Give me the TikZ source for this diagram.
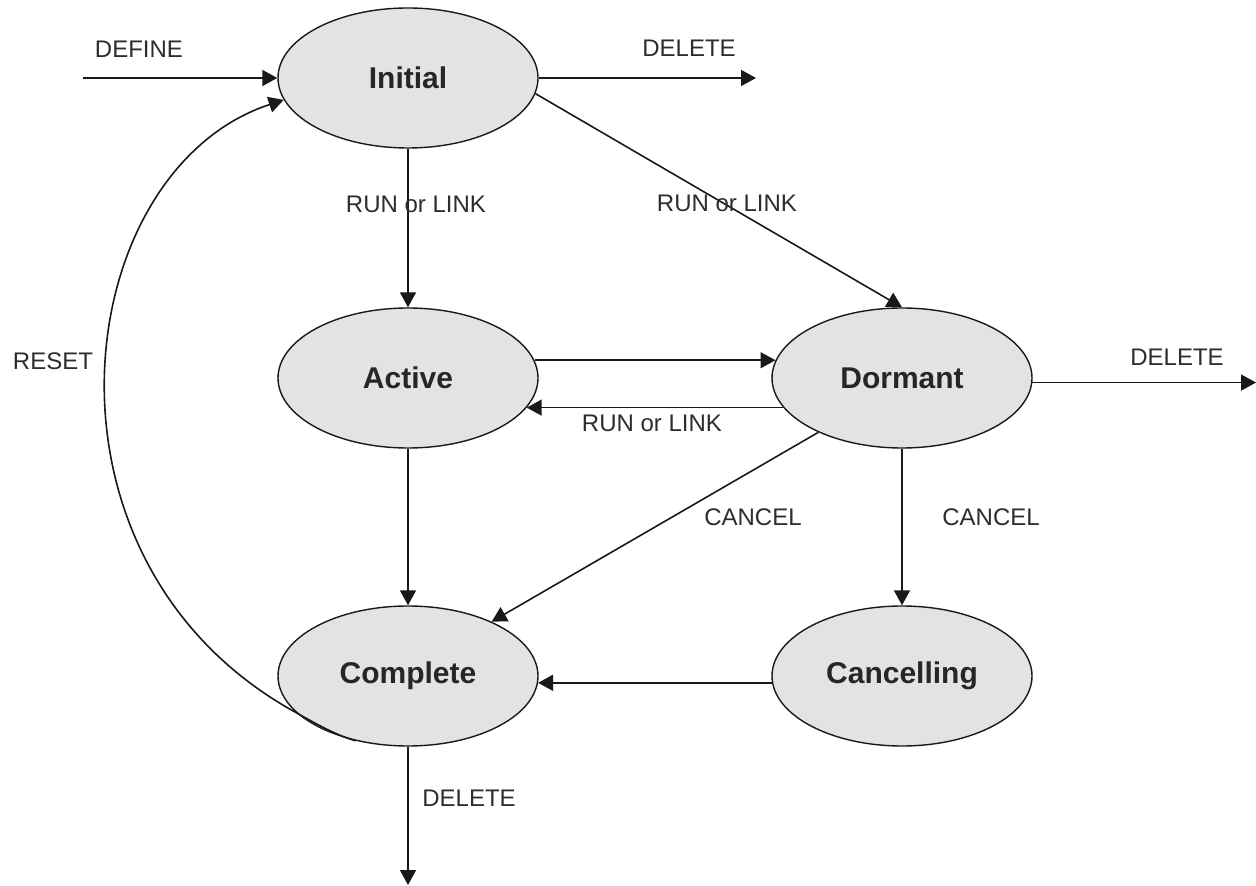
\documentclass[tikz,border=0pt]{standalone}
\usepackage{fontspec}
\setmainfont{Liberation Sans}
\usetikzlibrary{arrows.meta,shapes.geometric,backgrounds}
\definecolor{statefill}{RGB}{227,227,227}
\definecolor{inkline}{RGB}{25,25,25}
\definecolor{labelgray}{RGB}{45,45,45}
\begin{document}
\begin{tikzpicture}[x=0.5pt,y=-0.5pt,
  state/.style={ellipse, draw=inkline, line width=0.7pt, fill=statefill,
    minimum width=130pt, minimum height=70pt, inner sep=0pt,
    font=\bfseries\fontsize{15}{18}\selectfont, text=black!85},
  trans/.style={draw=inkline, line width=0.8pt,
    -{Triangle[length=7.5pt,width=8pt]}},
  lbl/.style={font=\fontsize{12}{14}\selectfont, text=labelgray, inner sep=0pt}]
\useasboundingbox (0,0) rectangle (1256,886);

% states
\node[state] (Initial)    at (408,78)  {Initial};
\node[state] (Active)     at (408,378) {Active};
\node[state] (Dormant)    at (902,378) {Dormant};
\node[state] (Complete)   at (408,676) {Complete};
\node[state] (Cancelling) at (902,676) {Cancelling};

% loose ends
\coordinate (defsrc) at (83,78);
\coordinate (delInit) at (756,78);
\coordinate (delDorm) at (1256,383);
\coordinate (delComp) at (408,885);

% transitions, kept behind the states
\begin{scope}[on background layer]
\draw[trans] (defsrc) -- (Initial.west);
\draw[trans] (Initial.east) -- (delInit);
\draw[trans] (Initial.south) -- (Active.north);
\draw[trans] (Initial.-7) -- (Dormant.north);
\draw[trans] (Active.8) -- (Active.8 -| Dormant.172);
\draw[trans] (Dormant.194) -- (Dormant.194 -| Active.-14);
\draw[trans] (Dormant.-2) -- (Dormant.-2 -| delDorm);
\draw[trans] (Active.south) -- (Complete.north);
\draw[trans] (Dormant.213) -- (Complete.33);
\draw[trans] (Dormant.south) -- (Cancelling.north);
\draw[trans] (Cancelling.183) -- (Cancelling.183 -| Complete.-3);
\draw[trans] (Complete.south) -- (delComp);
\end{scope}

% reset loop: hugs the lower rim of Complete, then sweeps up to Initial
\draw[trans] (Complete.231) .. controls (335,735) and (313,722) .. (295,712)
  .. controls (20,560) and (70,170) .. (Initial.190);

% labels
\node[lbl] (tDefine)  at (139,49)   {DEFINE};
\node[lbl] (tDelA)    at (689,48)   {DELETE};
\node[lbl] (tRun1)    at (416,204)  {RUN or LINK};
\node[lbl] (tRun2)    at (727,203)  {RUN or LINK};
\node[lbl] (tRun3)    at (652,423)  {RUN or LINK};
\node[lbl] (tDelB)    at (1177,357) {DELETE};
\node[lbl] (tCancel1) at (753,517)  {CANCEL};
\node[lbl] (tCancel2) at (991,517)  {CANCEL};
\node[lbl] (tDelC)    at (469,798)  {DELETE};
\node[lbl] (tReset)   at (53,361)   {RESET};
\end{tikzpicture}
\end{document}
